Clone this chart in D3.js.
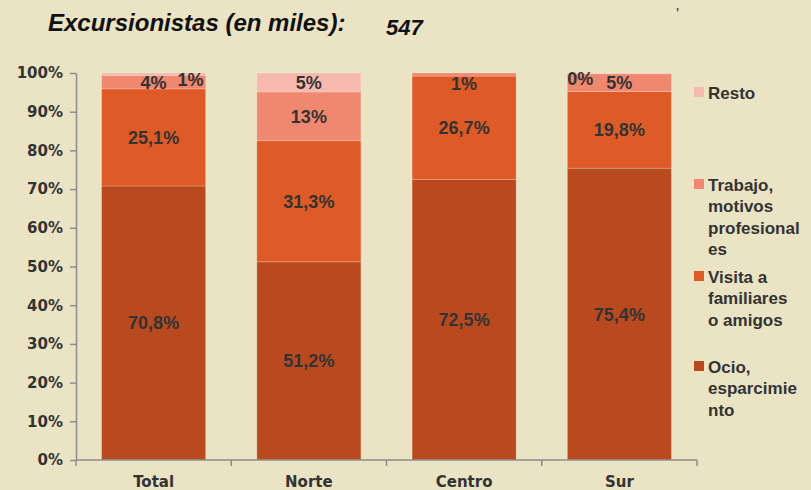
<!DOCTYPE html>
<html>
<head>
<meta charset="utf-8">
<script src="https://cdn.jsdelivr.net/npm/d3@7"></script>
<style>
body { margin: 0; background: #EAE3C4; }
svg { display: block; font-family: "Liberation Sans", Arial, sans-serif; }
</style>
</head>
<body>
<svg width="811" height="490"></svg>
<script>
// datos (porcentajes)
const zonas = ["Total", "Norte", "Centro", "Sur"];
const series = ["Ocio, esparcimiento", "Visita a familiares o amigos", "Trabajo, motivos profesionales", "Resto"];
const ocio    = [70.8, 51.2, 72.5, 75.4];
const visita  = [25.1, 31.3, 26.7, 19.8];
const trabajo = [3.5, 12.6, 0.8, 4.6];
const resto   = [0.6, 4.9, 0.0, 0.2];
const yTicks = [0, 10, 20, 30, 40, 50, 60, 70, 80, 90, 100];
const titulo = "Excursionistas (en miles):";
const totalExc = "547";

const colores = ["#B94A20", "#DE5B27", "#F08870", "#F6B9AD"];
const leyendaLineas = [
  ["Ocio,", "esparcimie", "nto"],
  ["Visita a", "familiares", "o amigos"],
  ["Trabajo,", "motivos", "profesional", "es"],
  ["Resto"]
];
const leyendaY = [367, 277, 185, 93];
// ajustes de etiquetas pequeñas [zona, serie, dx, dy]
const ajustes = [["Total", 3, 37, 5], ["Centro", 2, 0, 9], ["Sur", 3, -39, 5]];

const svg = d3.select("svg");
const valores = [ocio, visita, trabajo, resto];
const tabla = zonas.map((z, i) => {
  const o = { zona: z };
  valores.forEach((v, k) => o["s" + k] = v[i]);
  return o;
});
const keys = series.map((s, k) => "s" + k);
const stack = d3.stack().keys(keys)(tabla);

const x = d3.scaleBand().domain(zonas).range([76, 697]).paddingInner(0.33).paddingOuter(0.165);
const y = d3.scaleLinear().domain([0, 100]).range([460, 73]);

// título
svg.append("text").attr("x", 48).attr("y", 31)
  .style("font-size", "24px").style("font-weight", "bold").style("font-style", "italic")
  .attr("fill", "#111").text(titulo);
svg.append("text").attr("x", 386).attr("y", 35)
  .style("font-size", "22px").style("font-weight", "bold").style("font-style", "italic")
  .attr("fill", "#111").text(totalExc);
svg.append("text").attr("x", 676).attr("y", 10)
  .style("font-size", "11px").style("font-weight", "bold")
  .attr("fill", "#333").text(",");

// barras
const capas = svg.append("g").selectAll("g").data(stack).enter().append("g")
  .attr("fill", (d, k) => colores[k]);
capas.selectAll("rect").data(d => d).enter().append("rect")
  .attr("x", d => x(d.data.zona))
  .attr("width", x.bandwidth())
  .attr("y", d => y(d[1]))
  .attr("height", d => y(d[0]) - y(d[1]))
  .attr("stroke", "rgba(255,255,255,0.25)").attr("stroke-width", 0.8);

// etiquetas
stack.forEach((capa, k) => {
  capa.forEach(d => {
    const v = d[1] - d[0];
    if (v <= 0) return;
    let dx = 0, dy = 0;
    ajustes.forEach(a => { if (a[0] === d.data.zona && a[1] === k) { dx = a[2]; dy = a[3]; } });
    const txt = k < 2 ? d3.format(".1f")(v).replace(".", ",") + "%" : Math.round(v) + "%";
    svg.append("text")
      .attr("x", x(d.data.zona) + x.bandwidth() / 2 + dx)
      .attr("y", y((d[0] + d[1]) / 2) + dy)
      .attr("dy", "0.36em")
      .attr("text-anchor", "middle")
      .style("font-size", "18px").style("font-weight", "bold")
      .attr("fill", "#333").text(txt);
  });
});

// eje Y
const yAxis = d3.axisLeft(y).tickValues(yTicks).tickFormat(d => d + "%").tickSize(6).tickSizeOuter(0);
const gy = svg.append("g").attr("transform", "translate(76,0)").call(yAxis);
gy.select(".domain").attr("stroke", "#8C8C8C").attr("stroke-width", 1.5);
gy.selectAll(".tick line").attr("stroke", "#8C8C8C").attr("stroke-width", 1.5);
gy.selectAll(".tick text").attr("x", -13).style("font-size", "15px").style("font-weight", "bold")
  .style("font-family", "'DejaVu Sans', sans-serif").attr("fill", "#333");

// eje X
const gx = svg.append("g").attr("transform", "translate(0,460)");
gx.append("line").attr("x1", 76).attr("x2", 697).attr("stroke", "#8C8C8C").attr("stroke-width", 1.5);
const bordes = d3.range(zonas.length + 1).map(i => 76 + i * x.step());
gx.selectAll("line.t").data(bordes).enter().append("line").attr("class", "t")
  .attr("x1", d => d).attr("x2", d => d).attr("y1", 0).attr("y2", 6)
  .attr("stroke", "#8C8C8C").attr("stroke-width", 1.5);
gx.selectAll("text").data(zonas).enter().append("text")
  .attr("x", d => x(d) + x.bandwidth() / 2).attr("y", 26.5)
  .attr("text-anchor", "middle")
  .style("font-family", "'DejaVu Sans', sans-serif")
  .style("font-size", "15px").style("font-weight", "bold")
  .attr("fill", "#333").text(d => d);

// leyenda
series.forEach((s, k) => {
  const g = svg.append("g").attr("transform", `translate(694,${leyendaY[k]})`);
  g.append("rect").attr("x", 0).attr("y", -6).attr("width", 10).attr("height", 10).attr("fill", colores[k]);
  g.selectAll("text").data(leyendaLineas[k]).enter().append("text")
    .attr("x", 14).attr("y", (d, i) => i * 21.5).attr("dy", "0.34em")
    .style("font-size", "17px").style("font-weight", "bold")
    .attr("fill", "#333").text(d => d);
});
</script>
</body>
</html>
